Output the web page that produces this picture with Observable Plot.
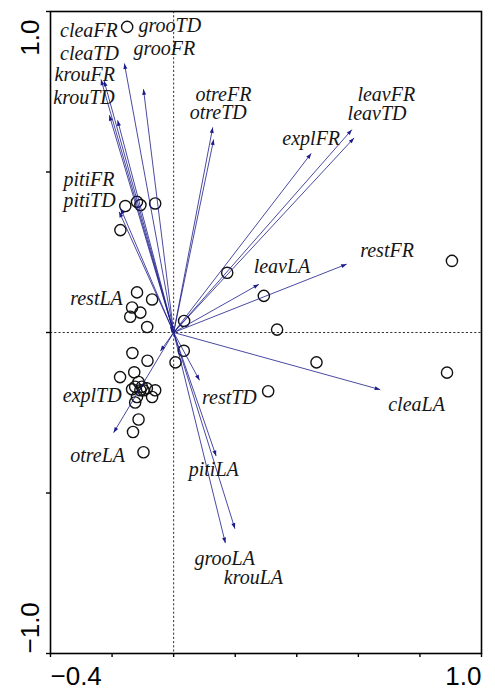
<!DOCTYPE html>
<html>
<head>
<meta charset="utf-8">
<script src="https://cdn.jsdelivr.net/npm/d3@7"></script>
<script src="https://cdn.jsdelivr.net/npm/@observablehq/plot@0.6"></script>
<style>
  html, body { margin: 0; padding: 0; background: #fff; }
</style>
</head>
<body>
<div id="chart"></div>
<script>
// ---- arrows (species / trait variables) : tip coordinates ----
const arrowNames = ["grooTD","grooFR","cleaFR","cleaTD","krouFR","krouTD","pitiFR","pitiTD",
  "otreFR","otreTD","explFR","leavFR","leavTD","restFR","leavLA","restTD","pitiLA","krouLA",
  "grooLA","otreLA","explTD","cleaLA","restLA"];
const arrowX = [-0.160,-0.098,-0.236,-0.226,-0.209,-0.182,-0.177,-0.172,
  0.127,0.130,0.447,0.579,0.586,0.562,0.277,0.084,0.138,0.199,
  0.168,-0.195,-0.043,0.671,-0.011];
const arrowY = [0.838,0.758,0.788,0.784,0.677,0.661,0.376,0.386,
  0.639,0.601,0.558,0.632,0.606,0.213,0.150,-0.149,-0.385,-0.611,
  -0.656,-0.312,-0.058,-0.178,0.017];

// ---- labels (as placed on the chart) ----
const labelNames = ["cleaFR","grooTD","cleaTD","grooFR","krouFR","krouTD","otreFR","otreTD",
  "pitiFR","pitiTD","leavFR","leavTD","explFR","restFR","leavLA","restLA","explTD","otreLA",
  "restTD","pitiLA","grooLA","krouLA","cleaLA"];
const labelX = [-0.369,-0.114,-0.369,-0.130,-0.387,-0.391,0.071,0.052,
  -0.358,-0.358,0.597,0.565,0.353,0.606,0.260,-0.336,-0.360,-0.336,
  0.092,0.049,0.068,0.163,0.697];
const labelY = [0.920,0.936,0.850,0.864,0.784,0.711,0.721,0.664,
  0.457,0.391,0.721,0.661,0.583,0.234,0.186,0.085,-0.216,-0.403,
  -0.223,-0.448,-0.725,-0.782,-0.244];

// ---- sample scores ----
const sampleX = [-0.151,-0.157,-0.119,-0.108,-0.060,-0.173,-0.119,-0.070,-0.135,-0.108,
  -0.141,-0.086,0.034,0.174,0.293,0.336,0.904,0.464,0.888,0.307,
  0.033,0.006,-0.134,-0.085,-0.174,-0.128,-0.114,-0.125,-0.103,-0.108,
  -0.098,-0.087,-0.060,-0.070,-0.119,-0.135,-0.125,-0.114,-0.132,-0.098];
const sampleY = [0.952,0.394,0.407,0.397,0.402,0.319,0.125,0.103,0.078,0.062,
  0.049,0.017,0.036,0.186,0.114,0.009,0.223,-0.093,-0.125,-0.183,
  -0.057,-0.093,-0.064,-0.088,-0.139,-0.124,-0.154,-0.169,-0.169,-0.180,
  -0.180,-0.174,-0.180,-0.201,-0.201,-0.177,-0.218,-0.271,-0.310,-0.373];

// ---- axis ticks ----
const xTicks = [-0.4,-0.2,0,0.2,0.4,0.6,0.8,1.0];
const yTicks = [-1.0,-0.5,0,0.5,1.0];
const xDomain = [-0.4, 1.0];
const yDomain = [-1.0, 1.0];

const arrows = arrowNames.map((n,i) => ({name: n, x: arrowX[i], y: arrowY[i]}));
const labels = labelNames.map((n,i) => ({name: n, x: labelX[i], y: labelY[i]}));
const samples = sampleX.map((x,i) => ({x, y: sampleY[i]}));

const arrowColor = "#1c1c8a";

function triMarker(color) {
  const m = d3.create("svg:marker")
    .attr("viewBox", "-6 -4 8 8")
    .attr("markerWidth", 8)
    .attr("markerHeight", 8)
    .attr("markerUnits", "userSpaceOnUse")
    .attr("orient", "auto")
    .attr("fill", color)
    .attr("stroke", "none");
  m.append("path").attr("d", "M-5.5,-2L0,0L-5.5,2Z");
  return m.node();
}

function build(marker) {
  const tickFont = {fontSize: 26, fontFamily: "Liberation Sans, Arial, sans-serif"};
  return Plot.plot({
    width: 495,
    height: 691,
    marginLeft: 50,
    marginRight: 14,
    marginTop: 11,
    marginBottom: 38,
    x: {domain: xDomain, label: null},
    y: {domain: yDomain, label: null},
    style: {background: "#fff", color: "#000"},
    marks: [
      Plot.ruleX([0], {stroke: "#000", strokeWidth: 0.8, strokeDasharray: "2.2,2"}),
      Plot.ruleY([0], {stroke: "#000", strokeWidth: 0.8, strokeDasharray: "2.2,2"}),
      Plot.dot(samples, {x: "x", y: "y", r: 5.6, stroke: "#111", strokeWidth: 1.4, fill: "none"}),
      Plot.link(arrows, {x1: d => 0, y1: d => 0, x2: "x", y2: "y", stroke: arrowColor,
        strokeWidth: 0.8, markerEnd: marker}),
      Plot.text(labels, {x: "x", y: "y", text: "name", textAnchor: "start", lineAnchor: "bottom",
        fontSize: 20, fontStyle: "italic", fill: "#151515",
        fontFamily: "Liberation Serif, Times New Roman, serif"}),
      Plot.frame({stroke: "#000", strokeWidth: 1.6}),
      Plot.axisX({ticks: xTicks, tickFormat: () => "", tickSize: 4, strokeWidth: 1.4, label: null}),
      Plot.axisX({ticks: [xTicks[0]], tickSize: 0, tickPadding: 13, textAnchor: "start", label: null, tickFormat: d3.format(".1f"), ...tickFont}),
      Plot.axisX({ticks: [xTicks[xTicks.length-1]], tickSize: 0, tickPadding: 13, textAnchor: "end", label: null, tickFormat: d3.format(".1f"), ...tickFont}),
      Plot.axisY({ticks: yTicks, tickFormat: () => "", tickSize: 4, strokeWidth: 1.4, label: null}),
      Plot.axisY({ticks: [yTicks[yTicks.length-1]], tickSize: 0, tickPadding: 12, tickRotate: -90, textAnchor: "end", dy: 8, label: null, tickFormat: d3.format(".1f"), ...tickFont}),
      Plot.axisY({ticks: [yTicks[0]], tickSize: 0, tickPadding: 12, tickRotate: -90, textAnchor: "start", label: null, tickFormat: d3.format(".1f"), ...tickFont})
    ]
  });
}

let chart;
try { chart = build(triMarker); } catch (e) { chart = build("arrow"); }
document.getElementById("chart").appendChild(chart);
</script>
</body>
</html>
